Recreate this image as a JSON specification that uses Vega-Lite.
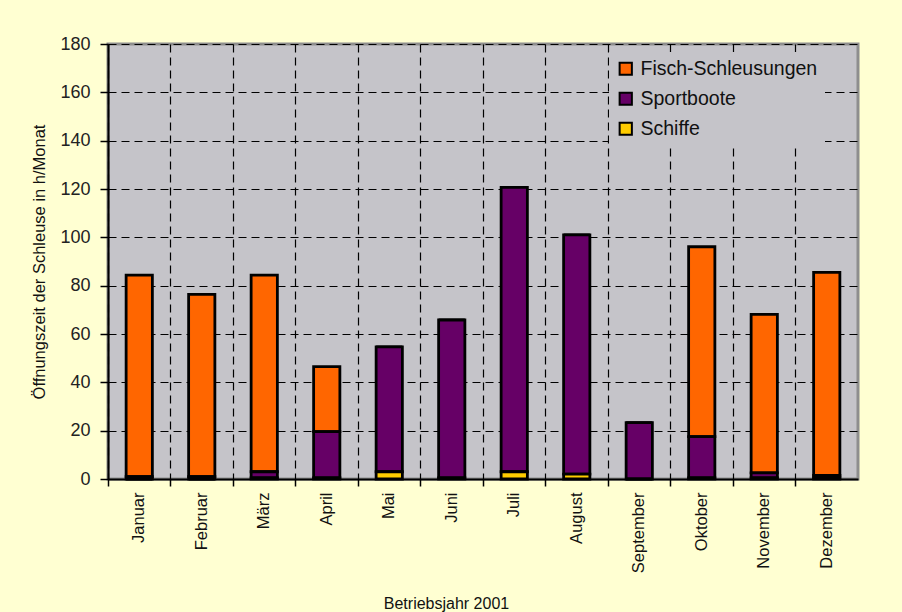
{
  "$schema": "https://vega.github.io/schema/vega-lite/v6.json",
  "width": 750,
  "height": 435,
  "autosize": {"type": "none"},
  "padding": {"left": 108, "top": 44, "right": 44, "bottom": 133},
  "background": "#FFFFD2",
  "config": {
    "font": "Liberation Sans",
    "view": {"fill": "#C5C4C9", "stroke": "#8E8E8E", "strokeWidth": 3}
  },
  "data": {
    "values": [
      {"monat": "Januar", "typ": "Fisch-Schleusungen", "stunden": 83.4},
      {"monat": "Januar", "typ": "Sportboote", "stunden": 1},
      {"monat": "Januar", "typ": "Schiffe", "stunden": 0},
      {"monat": "Februar", "typ": "Fisch-Schleusungen", "stunden": 75.4},
      {"monat": "Februar", "typ": "Sportboote", "stunden": 1},
      {"monat": "Februar", "typ": "Schiffe", "stunden": 0},
      {"monat": "März", "typ": "Fisch-Schleusungen", "stunden": 81.4},
      {"monat": "März", "typ": "Sportboote", "stunden": 2.5},
      {"monat": "März", "typ": "Schiffe", "stunden": 0.5},
      {"monat": "April", "typ": "Fisch-Schleusungen", "stunden": 26.9},
      {"monat": "April", "typ": "Sportboote", "stunden": 19.1},
      {"monat": "April", "typ": "Schiffe", "stunden": 0.5},
      {"monat": "Mai", "typ": "Fisch-Schleusungen", "stunden": 0},
      {"monat": "Mai", "typ": "Sportboote", "stunden": 51.7},
      {"monat": "Mai", "typ": "Schiffe", "stunden": 3},
      {"monat": "Juni", "typ": "Fisch-Schleusungen", "stunden": 0},
      {"monat": "Juni", "typ": "Sportboote", "stunden": 65.3},
      {"monat": "Juni", "typ": "Schiffe", "stunden": 0.5},
      {"monat": "Juli", "typ": "Fisch-Schleusungen", "stunden": 0},
      {"monat": "Juli", "typ": "Sportboote", "stunden": 117.7},
      {"monat": "Juli", "typ": "Schiffe", "stunden": 3},
      {"monat": "August", "typ": "Fisch-Schleusungen", "stunden": 0},
      {"monat": "August", "typ": "Sportboote", "stunden": 99},
      {"monat": "August", "typ": "Schiffe", "stunden": 2},
      {"monat": "September", "typ": "Fisch-Schleusungen", "stunden": 0},
      {"monat": "September", "typ": "Sportboote", "stunden": 23.3},
      {"monat": "September", "typ": "Schiffe", "stunden": 0},
      {"monat": "Oktober", "typ": "Fisch-Schleusungen", "stunden": 78.6},
      {"monat": "Oktober", "typ": "Sportboote", "stunden": 17},
      {"monat": "Oktober", "typ": "Schiffe", "stunden": 0.5},
      {"monat": "November", "typ": "Fisch-Schleusungen", "stunden": 65.6},
      {"monat": "November", "typ": "Sportboote", "stunden": 2},
      {"monat": "November", "typ": "Schiffe", "stunden": 0.5},
      {"monat": "Dezember", "typ": "Fisch-Schleusungen", "stunden": 84},
      {"monat": "Dezember", "typ": "Sportboote", "stunden": 1},
      {"monat": "Dezember", "typ": "Schiffe", "stunden": 0.5}
    ]
  },
  "transform": [
    {"calculate": "indexof(['Schiffe', 'Sportboote', 'Fisch-Schleusungen'], datum.typ)", "as": "stapel"}
  ],
  "mark": {"type": "bar", "width": {"band": 0.42}, "stroke": "#000000", "strokeWidth": 2.8},
  "encoding": {
    "x": {
      "field": "monat",
      "type": "nominal",
      "sort": ["Januar", "Februar", "März", "April", "Mai", "Juni", "Juli", "August", "September", "Oktober", "November", "Dezember"],
      "scale": {"paddingInner": 0, "paddingOuter": 0},
      "axis": {
        "title": "Betriebsjahr 2001",
        "titleFontSize": 16,
        "titleFontWeight": "normal",
        "titleColor": "#111111",
        "titleX": 338,
        "titleY": 116,
        "titleAnchor": "middle",
        "bandPosition": 0,
        "labelAngle": -90,
        "labelAlign": "right",
        "labelBaseline": "middle",
        "labelFontSize": 16.5,
        "labelColor": "#111111",
        "labelPadding": 6,
        "tickSize": 7,
        "tickColor": "#000000",
        "tickWidth": 1.5,
        "domainColor": "#000000",
        "domainWidth": 2,
        "grid": true,
        "gridColor": "#000000",
        "gridDash": [8, 5],
        "gridWidth": 1.2,
        "gridOpacity": 1
      }
    },
    "y": {
      "field": "stunden",
      "type": "quantitative",
      "stack": "zero",
      "scale": {"domain": [0, 180], "nice": false},
      "axis": {
        "title": "Öffnungszeit der Schleuse in h/Monat",
        "titleFontSize": 16.5,
        "titleFontWeight": "normal",
        "titleColor": "#111111",
        "titlePadding": 12,
        "values": [0, 20, 40, 60, 80, 100, 120, 140, 160, 180],
        "labelFontSize": 18,
        "labelColor": "#222222",
        "labelPadding": 10,
        "tickSize": 8,
        "tickColor": "#000000",
        "tickWidth": 1.5,
        "domainColor": "#000000",
        "domainWidth": 2,
        "grid": true,
        "gridColor": "#000000",
        "gridDash": [8, 5],
        "gridWidth": 1.2,
        "gridOpacity": 1
      }
    },
    "color": {
      "field": "typ",
      "type": "nominal",
      "scale": {
        "domain": ["Fisch-Schleusungen", "Sportboote", "Schiffe"],
        "range": ["#FF6600", "#660066", "#FFCC00"]
      },
      "legend": {
        "title": null,
        "orient": "none",
        "legendX": 501,
        "legendY": 8,
        "padding": 7,
        "fillColor": "#C5C4C9",
        "symbolType": "square",
        "symbolSize": 150,
        "symbolStrokeColor": "#000000",
        "symbolStrokeWidth": 2,
        "labelFontSize": 19.5,
        "labelLimit": 400,
        "labelColor": "#111111",
        "labelOffset": 5,
        "rowPadding": 9
      }
    },
    "order": {"field": "stapel", "type": "quantitative", "sort": "ascending"}
  }
}
